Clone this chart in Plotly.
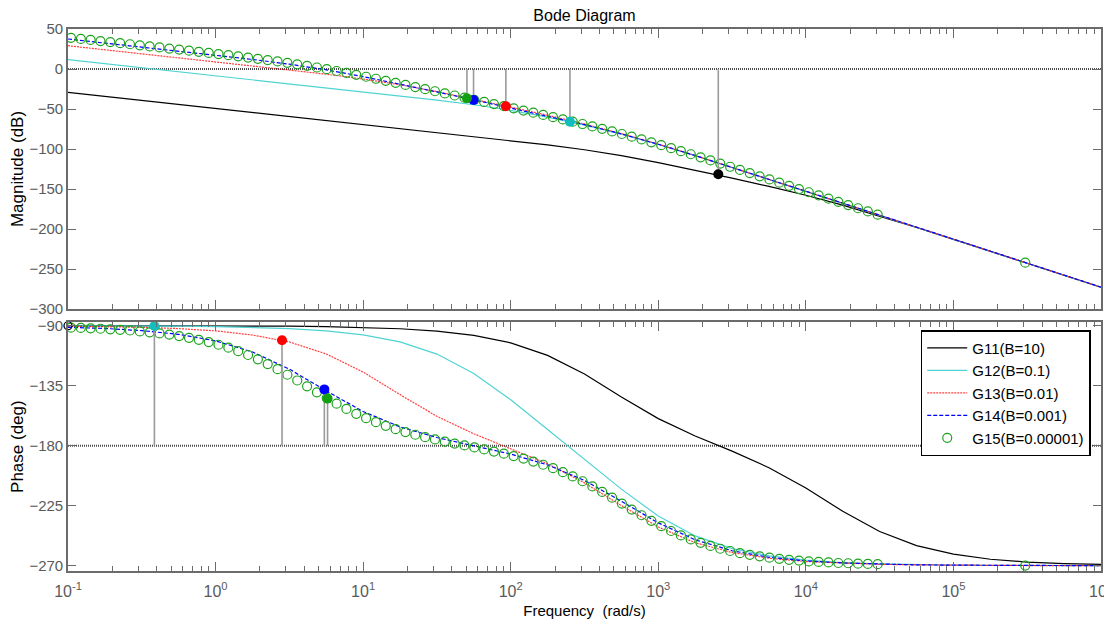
import plotly.graph_objects as go

# ---------------- data ----------------
series_names = ["G11(B=10)", "G12(B=0.1)", "G13(B=0.01)", "G14(B=0.001)", "G15(B=0.00001)"]

freq_line = [0.1, 0.1778, 0.3162, 0.5623, 1, 1.778, 3.162, 5.623, 10, 17.78, 31.62, 56.23,
             100, 177.8, 316.2, 562.3, 1000, 1778, 3162, 5623, 1e4, 1.778e4, 3.162e4, 5.623e4,
             1e5, 1.778e5, 3.162e5, 5.623e5, 1e6]

g11_mag = [-29.2, -34.2, -39.2, -44.2, -49.2, -54.2, -59.2, -64.2, -69.2, -74.21, -79.22, -84.27,
           -89.41, -94.83, -100.94, -108.3, -116.96, -126.46, -136.42, -146.76, -157.81, -170.09,
           -183.69, -198.13, -212.94, -227.88, -242.86, -257.86, -272.85]
g11_phase = [-90.0, -90.0, -90.0, -90.1, -90.1, -90.2, -90.4, -90.7, -91.3, -92.3, -94.1, -97.3,
             -102.9, -112.3, -126.3, -143.5, -159.7, -172.7, -184.1, -196.5, -211.8, -229.2,
             -244.4, -255.0, -261.4, -265.2, -267.3, -268.5, -269.1]

g12_mag = [11.65, 6.65, 1.65, -3.35, -8.35, -13.35, -18.36, -23.37, -28.40, -33.50, -38.82, -44.69,
           -51.70, -60.23, -70.17, -81.53, -94.40, -108.46, -123.12, -138.0, -152.97, -167.96,
           -182.95, -197.95, -212.95, -227.95, -242.95, -257.95, -272.95]
g12_phase = [-90.1, -90.1, -90.2, -90.4, -90.7, -91.2, -92.2, -93.9, -96.9, -102.2, -111.3, -125.8,
             -145.6, -167.9, -190.3, -212.6, -232.8, -247.7, -257.2, -262.7, -265.9, -267.7,
             -268.7, -269.3, -269.6, -269.8, -269.8, -269.9, -270.0]

g13_mag = [29.10, 24.10, 19.10, 14.09, 9.08, 4.04, -1.09, -6.47, -12.50, -19.72, -28.28, -37.73,
           -47.62, -57.87, -68.69, -80.61, -93.91, -108.19, -122.93, -137.85, -152.83, -167.82,
           -182.81, -197.81, -212.81, -227.81, -242.81, -257.81, -272.81]
g13_phase = [-90.4, -90.7, -91.2, -92.2, -93.9, -97.0, -102.2, -111.2, -124.8, -141.7, -158.0, -171.1,
             -182.1, -193.6, -207.9, -224.9, -241.0, -252.8, -260.1, -264.4, -266.9, -268.2,
             -269.0, -269.4, -269.7, -269.8, -269.9, -269.9, -270.0]

g14_mag = [37.50, 32.49, 27.48, 22.45, 17.33, 11.98, 6.04, -1.05, -9.49, -18.85, -28.64, -38.60,
           -48.64, -58.86, -69.52, -81.13, -94.09, -108.17, -122.84, -137.72, -152.69, -167.68,
           -182.67, -197.67, -212.67, -227.67, -242.67, -257.67, -272.67]
g14_phase = [-91.2, -92.1, -93.7, -96.5, -101.4, -109.7, -122.6, -138.9, -154.4, -165.9, -173.9, -180.1,
             -186.3, -194.4, -206.1, -221.7, -237.9, -250.6, -258.8, -263.7, -266.4, -268.0,
             -268.9, -269.4, -269.6, -269.8, -269.9, -269.9, -270.0]

g15_freq = [0.1047, 0.1221, 0.1423, 0.1660, 0.1935, 0.2256, 0.2630, 0.3067, 0.3576, 0.4169,
            0.4861, 0.5667, 0.6607, 0.7702, 0.8981, 1.047, 1.221, 1.423, 1.660, 1.935,
            2.256, 2.630, 3.067, 3.576, 4.169, 4.861, 5.667, 6.607, 7.702, 8.981,
            10.47, 12.21, 14.23, 16.60, 19.35, 22.56, 26.30, 30.67, 35.76, 41.69,
            48.61, 56.67, 66.07, 77.02, 89.81, 104.7, 122.1, 142.3, 166.0, 193.5,
            225.6, 263.0, 306.7, 357.6, 416.9, 486.1, 566.7, 660.7, 770.2, 898.1,
            1047, 1221, 1423, 1660, 1935, 2256, 2630, 3067, 3576, 4169,
            4861, 5667, 6607, 7702, 8981, 10470, 12210, 14230, 16600, 19350,
            22560, 26300, 30670, 306700]
g15_mag = [38.97, 37.63, 36.30, 34.96, 33.63, 32.29, 30.95, 29.61, 28.27, 26.93,
           25.58, 24.22, 22.86, 21.49, 20.10, 18.70, 17.28, 15.82, 14.33, 12.78,
           11.18, 9.50, 7.75, 5.89, 3.94, 1.89, -0.27, -2.51, -4.84, -7.25,
           -9.70, -12.21, -14.76, -17.33, -19.94, -22.56, -25.18, -27.82, -30.49, -33.14,
           -35.79, -38.47, -41.14, -43.81, -46.52, -49.21, -51.92, -54.65, -57.40, -60.18,
           -63.00, -65.86, -68.78, -71.76, -74.83, -77.99, -81.24, -84.60, -88.06, -91.61,
           -95.25, -98.96, -102.74, -106.57, -110.44, -114.34, -118.27, -122.21, -126.17, -130.14,
           -134.12, -138.09, -142.09, -146.08, -150.07, -154.07, -158.06, -162.05, -166.05, -170.05,
           -174.05, -178.05, -182.05, -242.05]
g15_phase = [-91.5, -91.7, -92.0, -92.3, -92.7, -93.1, -93.6, -94.3, -95.0, -95.8,
             -96.7, -97.8, -99.1, -100.6, -102.3, -104.3, -106.5, -109.1, -112.0, -115.2,
             -118.8, -122.6, -126.8, -131.1, -135.5, -140.0, -144.3, -148.5, -152.4, -156.1,
             -159.4, -162.4, -165.1, -167.6, -169.8, -171.8, -173.6, -175.3, -176.9, -178.4,
             -179.8, -181.3, -182.8, -184.4, -186.0, -187.8, -189.7, -191.9, -194.3, -196.9,
             -199.9, -203.1, -206.7, -210.6, -214.7, -219.0, -223.4, -227.9, -232.2, -236.4,
             -240.4, -244.0, -247.3, -250.3, -252.9, -255.2, -257.3, -259.0, -260.6, -261.9,
             -263.0, -264.0, -264.9, -265.6, -266.2, -266.8, -267.2, -267.6, -268.0, -268.2,
             -268.5, -268.7, -268.9, -269.9]

# stability-margin markers (G11..G15)
gm_freq = [2550, 252, 92.7, 56, 50.5]
gm_mag = [-131.5, -66.0, -46.5, -38.8, -36.5]
pm_freq = [0.1, 0.385, 2.82, 5.46, 5.74]
pm_phase = [-90.0, -90.2, -100.9, -137.8, -144.7]

mag_ticks = [-300, -250, -200, -150, -100, -50, 0, 50]
phase_ticks = [-270, -225, -180, -135, -90]
decades = [0.1, 1, 10, 100, 1000, 1e4, 1e5, 1e6]
decade_labels = ["10<sup>-1</sup>", "10<sup>0</sup>", "10<sup>1</sup>", "10<sup>2</sup>",
                 "10<sup>3</sup>", "10<sup>4</sup>", "10<sup>5</sup>", "10<sup>6</sup>"]

# ---------------- styling ----------------
# (the page body adds an 8px offset, so the figure is 8px smaller than the window)
FONT = "Liberation Sans, Arial"
line_colors = ["#000000", "#4fd3d3", "rgba(255,0,0,0.75)", "#0000ff"]
line_dash = ["solid", "solid", "2px,1px", "4px,2px"]
dot_colors = ["#000000", "#14bdbd", "#ff0000", "#0000ff", "#12a012"]
green = "#1ca31c"
axis_col = "#6b6b6b"
tick_font = dict(family=FONT, size=15, color="#5a5a5a")
ytitle_font = dict(family=FONT, size=17, color="#000000")

fig = go.Figure()

mags = [g11_mag, g12_mag, g13_mag, g14_mag]
phases = [g11_phase, g12_phase, g13_phase, g14_phase]

# magnitude traces (carry the legend)
for i in range(4):
    fig.add_trace(go.Scatter(x=freq_line, y=mags[i], mode="lines", name=series_names[i],
                             legendgroup=series_names[i],
                             line=dict(color=line_colors[i], width=1.2, dash=line_dash[i]),
                             xaxis="x", yaxis="y"))
fig.add_trace(go.Scatter(x=g15_freq, y=g15_mag, mode="markers", name=series_names[4],
                         legendgroup=series_names[4],
                         marker=dict(symbol="circle-open", size=9, color=green, line=dict(width=1.2, color=green)),
                         xaxis="x", yaxis="y"))

# phase traces
for i in range(4):
    fig.add_trace(go.Scatter(x=freq_line, y=phases[i], mode="lines", showlegend=False,
                             legendgroup=series_names[i],
                             line=dict(color=line_colors[i], width=1.2, dash=line_dash[i]),
                             xaxis="x2", yaxis="y2"))
fig.add_trace(go.Scatter(x=g15_freq, y=g15_phase, mode="markers", showlegend=False,
                         legendgroup=series_names[4],
                         marker=dict(symbol="circle-open", size=9, color=green, line=dict(width=1.2, color=green)),
                         xaxis="x2", yaxis="y2", cliponaxis=False))

# gain-margin / phase-margin drop lines and dots
for i in range(5):
    fig.add_trace(go.Scatter(x=[gm_freq[i], gm_freq[i]], y=[0, gm_mag[i]], mode="lines",
                             showlegend=False, line=dict(color="#9a9a9a", width=1.6),
                             xaxis="x", yaxis="y", hoverinfo="skip"))
for i in range(1, 5):
    fig.add_trace(go.Scatter(x=[pm_freq[i], pm_freq[i]], y=[-180, pm_phase[i]], mode="lines",
                             showlegend=False, line=dict(color="#9a9a9a", width=1.6),
                             xaxis="x2", yaxis="y2", hoverinfo="skip"))
for i in range(5):
    fig.add_trace(go.Scatter(x=[gm_freq[i]], y=[gm_mag[i]], mode="markers", showlegend=False,
                             marker=dict(size=10, color=dot_colors[i]), xaxis="x", yaxis="y"))
fig.add_trace(go.Scatter(x=[pm_freq[0]], y=[pm_phase[0]], mode="markers", showlegend=False,
                         marker=dict(symbol="circle-open", size=8, color="#000000", line=dict(width=1.3)),
                         xaxis="x2", yaxis="y2", cliponaxis=False))
for i in range(1, 5):
    fig.add_trace(go.Scatter(x=[pm_freq[i]], y=[pm_phase[i]], mode="markers", showlegend=False,
                             marker=dict(size=10, color=dot_colors[i]), xaxis="x2", yaxis="y2",
                             cliponaxis=False))

minor_vals = [m * d for d in decades[:-1] for m in range(2, 10)]

common_x = dict(type="log", range=[-1, 6], tickvals=decades, ticks="inside", ticklen=9,
                tickcolor=axis_col, tickwidth=1, mirror="allticks", showline=True,
                linecolor=axis_col, linewidth=1.6, showgrid=False, zeroline=False, automargin=False,
                minor=dict(tickvals=minor_vals, ticks="inside", ticklen=5, tickcolor=axis_col,
                           showgrid=False))
common_y = dict(ticks="inside", ticklen=8, tickcolor=axis_col, mirror="allticks", showline=True,
                linecolor=axis_col, linewidth=1.6, showgrid=False, zeroline=False, automargin=False,
                tickfont=tick_font, title_font=ytitle_font)

fig.update_layout(
    width=1104, height=619,
    margin=dict(l=60, r=11, t=21, b=56),
    paper_bgcolor="white", plot_bgcolor="white",
    title=dict(text="Bode Diagram", x=0.5, xref="paper", xanchor="center",
               y=1 - 7 / 619, yref="container", yanchor="middle",
               font=dict(family=FONT, size=16, color="#000000")),
    xaxis=dict(domain=[0, 1], anchor="y", showticklabels=False, **common_x),
    xaxis2=dict(domain=[0, 1], anchor="y2", matches="x", showticklabels=True,
                ticktext=decade_labels, ticklabelstandoff=5, ticklabeloverflow="allow",
                tickfont=dict(family=FONT, size=16, color="#5a5a5a"),
                title=dict(text="Frequency  (rad/s)", font=dict(family=FONT, size=15, color="#000000"),
                           standoff=6), **common_x),
    yaxis=dict(domain=[0.4834, 1], anchor="x", range=[-300, 50], tickvals=mag_ticks,
               ticklabeloverflow="allow",
               title=dict(text="Magnitude (dB)", standoff=3), **common_y),
    yaxis2=dict(domain=[0, 0.4589], anchor="x2", range=[-274, -87.45], tickvals=phase_ticks,
                ticklabeloverflow="allow",
                title=dict(text="Phase (deg)", standoff=3), **common_y),
    legend=dict(x=0.8255, y=0.4445, xanchor="left", yanchor="top",
                bgcolor="white", bordercolor="#000000", borderwidth=1.5, itemwidth=40,
                font=dict(family=FONT, size=15, color="#000000"),
                tracegroupgap=0),
    shapes=[
        dict(type="line", xref="x domain", yref="y", x0=0, x1=1, y0=0, y1=0,
             line=dict(color="#4a4a4a", width=2, dash="1px,1px"), layer="below"),
        dict(type="line", xref="x2 domain", yref="y2", x0=0, x1=1, y0=-180, y1=-180,
             line=dict(color="#4a4a4a", width=2, dash="1px,1px"), layer="below"),
    ],
    showlegend=True,
)

fig.write_html("out.html")
